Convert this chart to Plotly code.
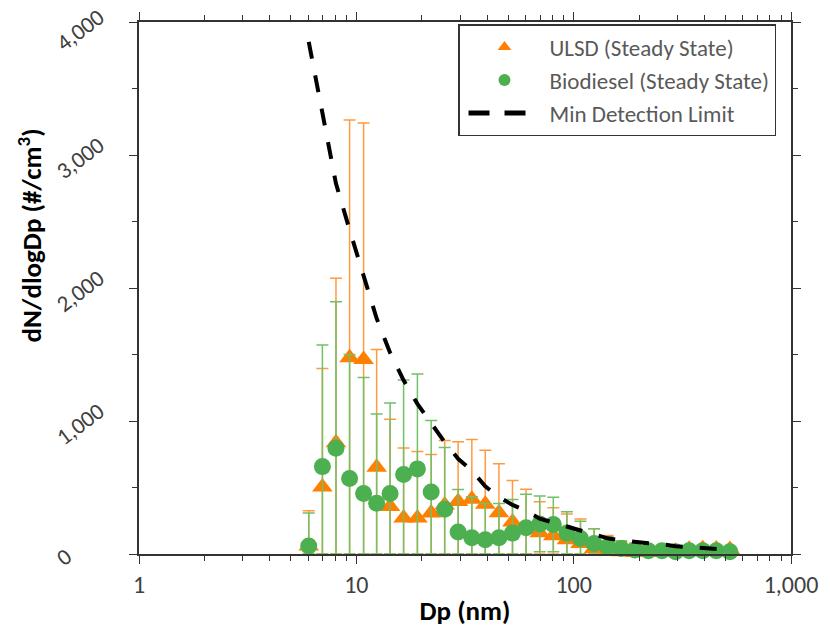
import plotly.graph_objects as go

# Particle diameter bins (nm)
dp = [6.04, 6.98, 8.06, 9.31, 10.8, 12.4, 14.3, 16.5, 19.1, 22.1, 25.5, 29.4, 34.0, 39.2,
      45.3, 52.3, 60.4, 69.8, 80.6, 93.1, 107.5, 124.1, 143.3, 165.5, 191.1, 220.7,
      254.8, 294.3, 339.8, 392.4, 453.2, 523.3]

# ULSD (Steady State)
ulsd = [60, 504, 836, 1476, 1463, 652, 357, 271, 271, 308, 369, 394, 411, 375, 310, 240,
        190, 160, 138, 107, 79, 42, 25, 16, 12, 12, 15, 20, 35, 40, 38, 33]
ulsd_err = [265, 891, 1238, 1788, 1777, 885, 656, 526, 499, 440, 485, 450, 450, 405, 368, 313,
            296, 232, 209, 193, 184, 147, 115, 84, 68, 48, 35, 30, 25, 25, 22, 22]

# Biodiesel (Steady State)
bio = [60, 657, 795, 568, 455, 381, 455, 598, 640, 467, 337, 165, 123, 108, 123, 157,
       197, 226, 221, 157, 116, 79, 54, 42, 30, 25, 25, 17, 25, 25, 25, 17]
bio_err = [248, 915, 1102, 932, 873, 672, 681, 711, 713, 537, 463, 320, 307, 272, 257, 253,
           253, 210, 205, 160, 130, 111, 76, 53, 40, 30, 25, 23, 20, 20, 20, 23]

# Minimum detection limit
mdl = [3850, 3306, 2785, 2437, 2090, 1771, 1513, 1306, 1129, 982, 841, 716, 627, 509, 428, 369,
       325, 266, 236, 207, 177, 148, 118, 103, 89, 81, 74, 59, 52, 44, 37, 30]

x_tickvals = [1, 10, 100, 1000]
x_ticktext = ["1", "10", "100", "1,000"]
y_tickvals = [0, 1000, 2000, 3000, 4000]
y_ticktext = ["0", "1,000", "2,000", "3,000", "4,000"]

ORANGE = "#FF7F00"
GREEN = "#4CAF50"
FONT = "Calibri, Carlito, Lato, sans-serif"
AXC = "#333333"
TICKC = "#404040"

fig = go.Figure()

fig.add_trace(go.Scatter(
    x=dp, y=ulsd, mode="markers", name="ULSD (Steady State)", showlegend=False,
    cliponaxis=False,
    marker=dict(symbol="triangle-up", size=18, color=ORANGE),
    error_y=dict(type="data", symmetric=False, array=ulsd_err,
                 arrayminus=[min(e, v) for e, v in zip(ulsd_err, ulsd)],
                 color="#FF9A40", thickness=1.5, width=6),
))
fig.add_trace(go.Scatter(
    x=dp, y=bio, mode="markers", name="Biodiesel (Steady State)", showlegend=False,
    cliponaxis=False,
    marker=dict(symbol="circle", size=17, color=GREEN),
    error_y=dict(type="data", symmetric=False, array=bio_err,
                 arrayminus=[min(e, v) for e, v in zip(bio_err, bio)],
                 color="#72C068", thickness=1.5, width=6),
))
fig.add_trace(go.Scatter(
    x=dp, y=mdl, mode="lines", name="Min Detection Limit", showlegend=False,
    line=dict(color="black", width=4, dash="17px,17px"),
))

# legend entries
fig.add_trace(go.Scatter(x=[None], y=[None], mode="markers", name="ULSD (Steady State)",
                         marker=dict(symbol="triangle-up", size=12, color=ORANGE)))
fig.add_trace(go.Scatter(x=[None], y=[None], mode="markers", name="Biodiesel (Steady State)",
                         marker=dict(symbol="circle", size=12, color=GREEN)))
fig.add_trace(go.Scatter(x=[None], y=[None], mode="lines", name="Min Detection Limit",
                         line=dict(color="black", width=5,
                                   dash="0px,4px,21px,15px,21px,200px")))

minor_x = [m * 10 ** d for d in range(0, 3) for m in range(2, 10)]

# rotated y tick labels, placed at the tick values on the y scale
ylabel_annotations = [
    dict(text=t, xref="paper", yref="y", x=-0.138, y=v, xanchor="left", yanchor="middle",
         yshift=(-8 if v == max(y_tickvals) else -3), textangle=-37, showarrow=False,
         borderpad=0, font=dict(family=FONT, size=23, color=TICKC))
    for v, t in zip(y_tickvals, y_ticktext)
]

fig.update_layout(
    width=830, height=635,
    margin=dict(l=139, r=33, t=13, b=81),
    paper_bgcolor="white", plot_bgcolor="white",
    font=dict(family=FONT, color=TICKC, size=22),
    showlegend=True,
    legend=dict(
        x=0.977, xanchor="right", y=0.996, yanchor="top",
        bgcolor="white", bordercolor="#333333", borderwidth=1.5,
        font=dict(family=FONT, size=23, color="#595959"),
        itemwidth=80,
    ),
    xaxis=dict(
        type="log", range=[0, 3],
        tickmode="array", tickvals=x_tickvals, ticktext=x_ticktext,
        ticks="outside", ticklen=8, tickwidth=1.3, tickcolor=AXC,
        showline=True, linecolor=AXC, linewidth=1.5, mirror="ticks",
        showgrid=False, zeroline=False,
        minor=dict(tickmode="array", tickvals=minor_x, ticks="outside", ticklen=5,
                   tickwidth=1.3, tickcolor=AXC, showgrid=False),
        title=dict(text="<b>Dp (nm)</b>", font=dict(family=FONT, size=27, color="black"),
                   standoff=4),
        tickfont=dict(family=FONT, size=24, color=TICKC),
    ),
    yaxis=dict(
        range=[0, 4000],
        tickmode="array", tickvals=y_tickvals, showticklabels=False,
        ticks="outside", ticklen=8, tickwidth=1.3, tickcolor=AXC,
        showline=True, linecolor=AXC, linewidth=1.5, mirror="ticks",
        showgrid=False, zeroline=False,
        minor=dict(dtick=500, ticks="outside", ticklen=5, tickwidth=1.3,
                   tickcolor=AXC, showgrid=False),
    ),
    annotations=[dict(
        text="<b>dN/dlogDp (#/cm<sup>3</sup>)</b>", textangle=-90,
        xref="paper", yref="paper", x=-0.167, y=0.599,
        xanchor="center", yanchor="middle", showarrow=False,
        font=dict(family=FONT, size=27, color="black"),
    )] + ylabel_annotations,
)

fig.write_html("out.html")
